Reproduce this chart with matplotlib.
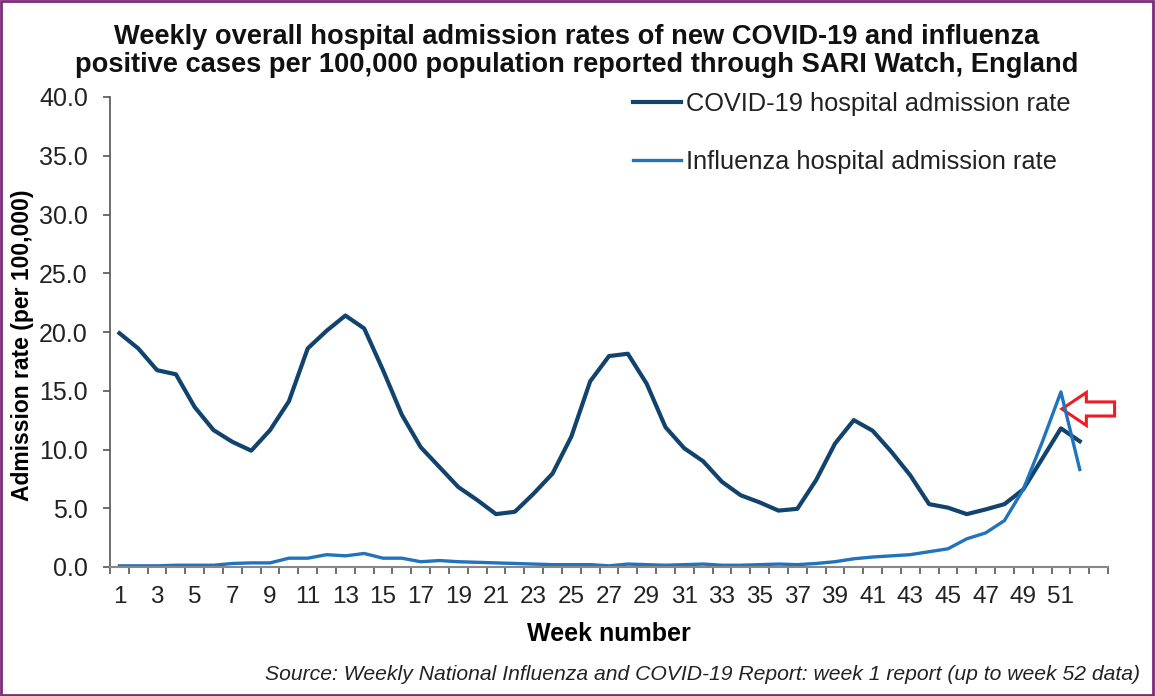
import matplotlib
matplotlib.use("Agg")
import matplotlib.pyplot as plt
from matplotlib.patches import Rectangle, Polygon
from matplotlib.ticker import FixedLocator, NullFormatter

plt.rcParams['font.family'] = ['Liberation Sans', 'DejaVu Sans']

# weekly admission rates per 100,000
weeks = list(range(1, 53))
covid_rate = [19.9, 18.6, 16.75, 16.4, 13.6, 11.65, 10.65, 9.9, 11.65, 14.1,
              18.6, 20.1, 21.4, 20.3, 16.75, 12.95, 10.2, 8.5, 6.8, 5.7,
              4.5, 4.7, 6.25, 7.95, 11.1, 15.8, 17.95, 18.15, 15.6, 11.9,
              10.1, 9.0, 7.25, 6.1, 5.5, 4.8, 4.95, 7.4, 10.5, 12.5,
              11.6, 9.8, 7.8, 5.35, 5.05, 4.5, 4.9, 5.35, 6.6, 9.2,
              11.8, 10.7]
flu_rate = [0.1, 0.1, 0.1, 0.15, 0.15, 0.15, 0.3, 0.35, 0.35, 0.75,
            0.75, 1.05, 0.95, 1.15, 0.75, 0.75, 0.45, 0.55, 0.45, 0.4,
            0.35, 0.3, 0.25, 0.2, 0.2, 0.2, 0.1, 0.25, 0.2, 0.15,
            0.2, 0.25, 0.15, 0.15, 0.2, 0.25, 0.2, 0.3, 0.45, 0.7,
            0.85, 0.95, 1.05, 1.3, 1.55, 2.4, 2.9, 3.95, 6.6, 10.6,
            14.9, 8.3]
week_labels = [str(w) for w in range(1, 52, 2)]

title = ("Weekly overall hospital admission rates of new COVID-19 and influenza\n"
         "positive cases per 100,000 population reported through SARI Watch, England")
source = "Source: Weekly National Influenza and COVID-19 Report: week 1 report (up to week 52 data)"

covid_col = '#12436D'
flu_col = '#2073BC'

fig = plt.figure(figsize=(11.55, 6.96), dpi=100)
ax = fig.add_axes([110 / 1155, 1 - 567 / 696, 998 / 1155, 470 / 696])

ax.plot(weeks, covid_rate, color=covid_col, lw=3.0, solid_joinstyle='round',
        label='COVID-19 hospital admission rate')
ax.plot(weeks, flu_rate, color=flu_col, lw=2.4, solid_joinstyle='round',
        label='Influenza hospital admission rate')

ax.set_xlim(0.5, 53.5)
ax.set_ylim(0, 40)

# y axis
ax.set_yticks([0, 5, 10, 15, 20, 25, 30, 35, 40])
ax.set_yticklabels([f"{v:.1f}" for v in range(0, 41, 5)], fontsize=18, color='#222222')
ax.tick_params(axis='y', length=5, width=1.2, color='#555555', pad=11)

# x axis: labels at odd weeks, tick marks between categories
ax.xaxis.set_major_locator(FixedLocator(range(1, 52, 2)))
ax.set_xticklabels(week_labels, fontsize=17.5, color='#222222')
ax.tick_params(axis='x', which='major', length=0, pad=14)
ax.xaxis.set_minor_locator(FixedLocator([w + 0.5 for w in range(0, 54)]))
ax.xaxis.set_minor_formatter(NullFormatter())
ax.tick_params(axis='x', which='minor', length=5, width=1.2, color='#555555')

for s in ['top', 'right']:
    ax.spines[s].set_visible(False)
ax.spines['left'].set_color('#555555')
ax.spines['bottom'].set_color('#888888')
ax.spines['left'].set_linewidth(1.2)
ax.spines['bottom'].set_linewidth(1.5)

ax.set_xlabel('Week number', fontsize=18, fontweight='bold', labelpad=10)
ax.set_ylabel('Admission rate (per 100,000)', fontsize=16.5, fontweight='bold')
ax.yaxis.set_label_coords(-76 / 998, (567 - 345) / 470)

leg = ax.legend(loc='upper left', bbox_to_anchor=(633 / 1155, 1 - 92 / 696),
                bbox_transform=fig.transFigure, frameon=False, fontsize=18.3,
                handlelength=1.9, handletextpad=0.2, labelspacing=1.33,
                borderpad=0, borderaxespad=0)
for t in leg.get_texts():
    t.set_color('#222222')

fig.text(0.499, 1 - 51 / 696, title, ha='center', va='center', fontsize=19.6,
         fontweight='bold', linespacing=1.15, color='#111111')
fig.text(1140 / 1155, 1 - 675 / 696, source, ha='right', va='center',
         fontsize=15.2, style='italic', color='#222222')

# red outline arrow pointing at the influenza peak
pk = flu_rate.index(max(flu_rate))
tx, ty = weeks[pk] + 0.05, flu_rate[pk] - 1.45
arrow = Polygon([(tx, ty), (tx + 1.3, ty + 1.4), (tx + 1.3, ty + 0.6),
                 (tx + 2.8, ty + 0.6), (tx + 2.8, ty - 0.6),
                 (tx + 1.3, ty - 0.6), (tx + 1.3, ty - 1.4)],
                closed=True, fill=False, edgecolor='#EE1C25', lw=2.2, clip_on=False)
ax.add_patch(arrow)

fig.patches.append(Rectangle((0.001, 0.002), 0.997, 0.996, transform=fig.transFigure,
                             fill=False, edgecolor='#7B2C7B', lw=2))

fig.savefig('out.png', dpi=100)
